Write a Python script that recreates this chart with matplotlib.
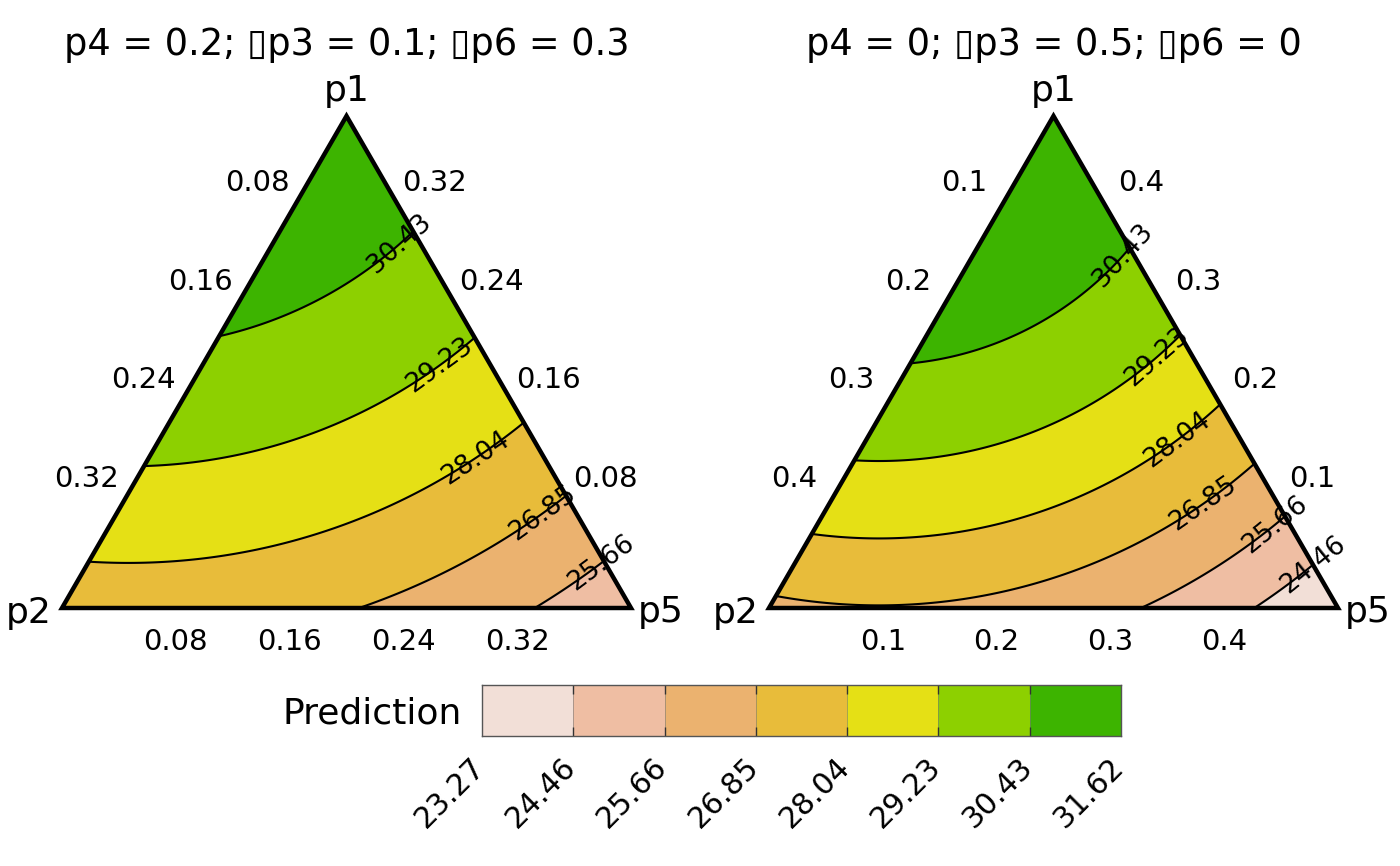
import numpy as np
import matplotlib
matplotlib.use("Agg")
from matplotlib import pyplot as plt
from matplotlib.path import Path
import matplotlib.tri as mtri

# DI model: identity effects + average pairwise interaction
species = ["p1", "p2", "p3", "p4", "p5", "p6"]
beta = [30.0, 20.0, 22.45, 18.0, 13.4, 20.0]
theta_av = 21.5

# species held fixed in each panel
cond_p4 = [0.2, 0]
cond_p3 = [0.1, 0.5]
cond_p6 = [0.3, 0]

breaks = [23.27, 24.46, 25.66, 26.85, 28.04, 29.23, 30.43, 31.62]
fill_colours = ["#F2DFD7", "#EFBEA3", "#EBB26F", "#E8BC3A", "#E5E015", "#8DD000", "#3DB400"]
tick_fracs = [0.2, 0.4, 0.6, 0.8]

# how far (px) back from the right edge each contour label sits, per panel/level
label_back = [[0, 3, 29, 60, 45, 18], [0, 13, 65, 56, 32, 10]]

W, H = 1400, 866
PX = 569.0  # pixels per unit of triangle side
SQ = np.sqrt(3) / 2


def predict(p):
    lin = sum(b * pi for b, pi in zip(beta, p))
    tot = sum(p)
    inter = (tot ** 2 - sum(pi ** 2 for pi in p)) / 2
    return lin + theta_av * inter


def ternary_grid(n=160):
    f1, f5 = [], []
    for i in range(n + 1):
        for j in range(n + 1 - i):
            f1.append(i / n)
            f5.append(j / n)
    f1 = np.array(f1)
    f5 = np.array(f5)
    f2 = 1 - f1 - f5
    return f1, f2, f5


def fmt(v):
    return "{:g}".format(round(v, 3))


def pieces(path):
    verts = path.vertices
    if path.codes is None or len(path.codes) == 0:
        parts = [verts]
    else:
        starts = np.where(path.codes == Path.MOVETO)[0]
        parts = np.split(verts, starts[1:])
    return [v for v in parts if len(v) > 1]


fig = plt.figure(figsize=(W / 100, H / 100), dpi=100)
f1, f2, f5 = ternary_grid()
x = f5 + f1 / 2
y = f1 * SQ
tri = mtri.Triangulation(x, y)

for k, x0 in enumerate([62, 769]):
    c3, c4, c6 = cond_p3[k], cond_p4[k], cond_p6[k]
    s = 1 - c3 - c4 - c6
    n = len(f1)
    p = [s * f1, s * f2, np.full(n, c3), np.full(n, c4), s * f5, np.full(n, c6)]
    z = np.clip(predict(p), breaks[0] + 1e-6, breaks[-1] - 1e-6)

    ax = fig.add_axes([x0 / W, (H - 608) / H, PX / W, 492 / H])
    ax.set_xlim(0, 1)
    ax.set_ylim(0, SQ)
    ax.axis("off")

    ax.tricontourf(tri, z, levels=breaks, colors=fill_colours, antialiased=True)
    cs = ax.tricontour(tri, z, levels=breaks[1:-1], colors="black", linewidths=1.5)

    # label each contour a little way in from where it meets the right edge
    for li, path in enumerate(cs.get_paths()):
        segs = pieces(path)
        if not segs:
            continue
        seg = max(segs, key=lambda v: np.hypot(*np.diff(v, axis=0).T).sum())
        if seg[0, 0] > seg[-1, 0]:
            seg = seg[::-1]
        d = np.r_[0, np.cumsum(np.hypot(*np.diff(seg, axis=0).T))]
        target = d[-1] - label_back[k][li] / PX
        lx = np.interp(target, d, seg[:, 0])
        ly = np.interp(target, d, seg[:, 1])
        t0, t1 = max(target - 0.03, 0), min(target + 0.03, d[-1])
        dx = np.interp(t1, d, seg[:, 0]) - np.interp(t0, d, seg[:, 0])
        dy = np.interp(t1, d, seg[:, 1]) - np.interp(t0, d, seg[:, 1])
        ang = np.degrees(np.arctan2(dy, dx))
        ax.text(lx, ly, fmt(breaks[li + 1]), rotation=ang, rotation_mode="anchor",
                ha="center", va="center", fontsize=19, clip_on=False)

    ax.add_patch(plt.Polygon([[0, 0], [1, 0], [0.5, SQ]], closed=True, fill=False,
                             lw=3.2, edgecolor="black", joinstyle="miter", clip_on=False))

    # axis tick labels
    for t in tick_fracs:
        ax.text(t, -34 / PX, fmt(s * t), ha="center", va="center", fontsize=21)
        lx, ly = 0.5 * (1 - t), SQ * (1 - t)
        ax.text(lx - 32 / PX, ly + 31 / PX, fmt(s * t), ha="center", va="center", fontsize=21)
        rx, ry = 1 - 0.5 * t, SQ * t
        ax.text(rx + 31 / PX, ry + 31 / PX, fmt(s * t), ha="center", va="center", fontsize=21)

    ax.text(0.5, SQ + 15 / PX, "p1", ha="center", va="baseline", fontsize=26)
    ax.text(-10 / PX, -15 / PX, "p2", ha="right", va="baseline", fontsize=26)
    ax.text(1 + 7 / PX, -14 / PX, "p5", ha="left", va="baseline", fontsize=26)

    title = "p4 = {}; \u25AFp3 = {}; \u25AFp6 = {}".format(fmt(c4), fmt(c3), fmt(c6))
    ax.text(0.5, SQ + 61 / PX, title, ha="center", va="baseline", fontsize=26.5)

# colour legend
cax = fig.add_axes([482 / W, (H - 736) / H, 639 / W, 51 / H])
nb = len(fill_colours)
cax.bar(np.arange(nb), np.ones(nb), width=1, align="edge", color=fill_colours, edgecolor="none")
cax.set_xlim(0, nb)
cax.set_ylim(0, 1)
cax.vlines(np.arange(1, nb), 0, 1, color="#777777", lw=0.4)
cax.vlines(np.arange(1, nb), 0, 0.18, color="#333333", lw=1)
cax.vlines(np.arange(1, nb), 0.82, 1, color="#333333", lw=1)
for sp in cax.spines.values():
    sp.set_color("#555555")
    sp.set_linewidth(1)
cax.set_xticks([])
cax.set_yticks([])
ux = nb / 639.0
for i, b in enumerate(breaks):
    cax.text(i - 12 * ux, -16 / 51, "{:.2f}".format(b), rotation=45, ha="right", va="top",
             rotation_mode="anchor", fontsize=21.5, clip_on=False)
fig.text(462 / W, 1 - 713 / H, "Prediction", ha="right", va="center", fontsize=26)

fig.savefig("out.png", dpi=100, facecolor="white")
